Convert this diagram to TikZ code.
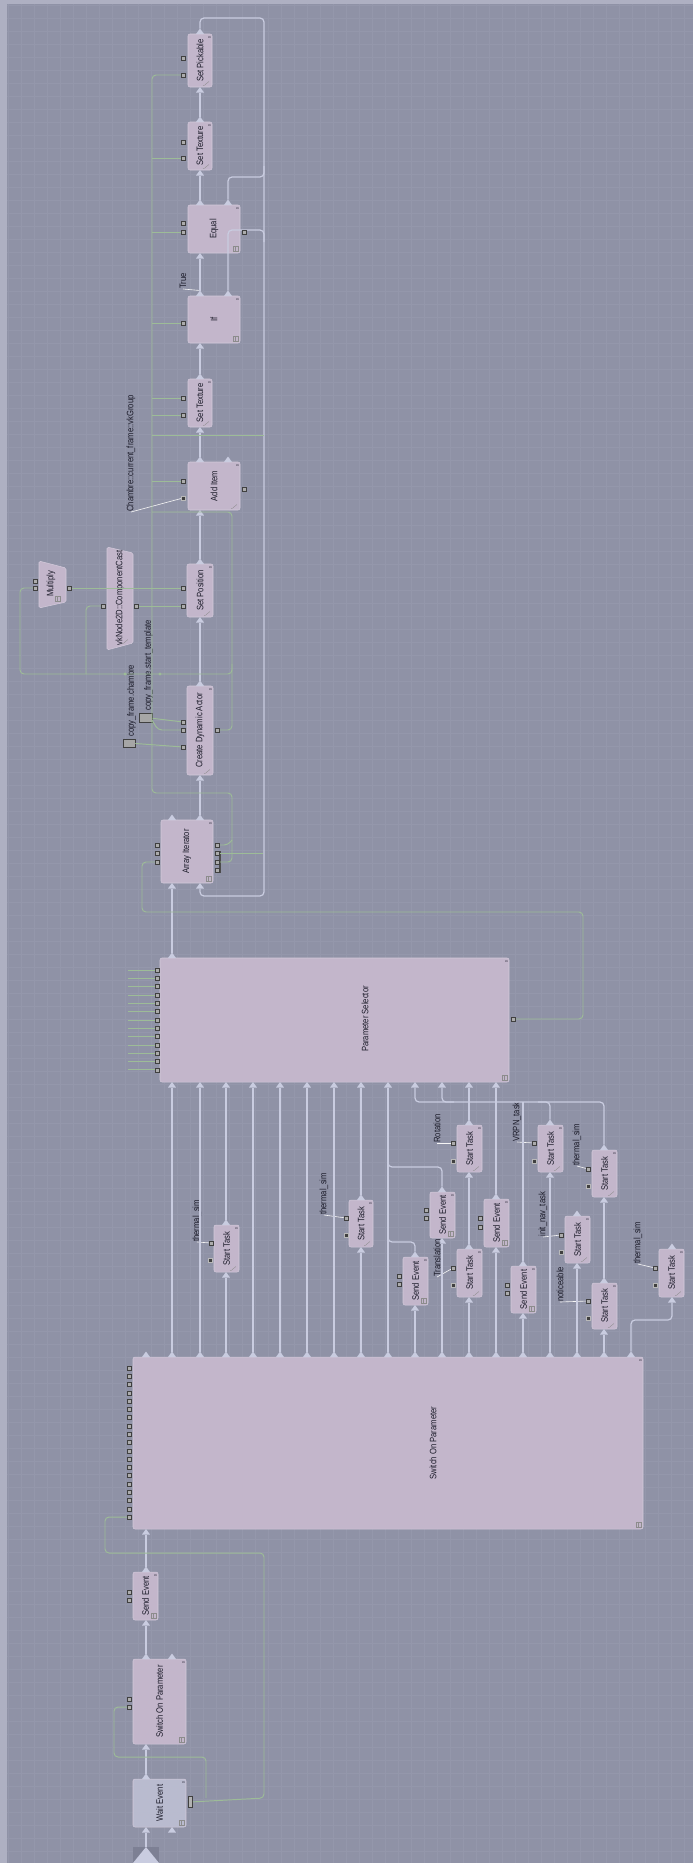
\documentclass[tikz,border=0pt]{standalone}
\usepackage{fontspec}
\setmainfont[FakeStretch=0.82]{Liberation Sans}
\definecolor{bgc}{HTML}{8F92A6}
\definecolor{gridc}{HTML}{9497AB}
\definecolor{edgec}{HTML}{AEB0C2}
\definecolor{nodef}{HTML}{C3B6CB}
\definecolor{noded}{HTML}{D3CADB}
\definecolor{wef}{HTML}{B9BBCF}
\definecolor{flowc}{HTML}{C9CCE0}
\definecolor{greenc}{HTML}{9DBC97}
\definecolor{txt}{HTML}{1A1A28}
\definecolor{startc}{HTML}{7D8094}
\tikzset{
 nbox/.style={draw=noded, fill=nodef, rounded corners=0.04cm, line width=0.3pt, inner sep=0pt},
 lt/.style={font=\fontsize{5.3}{5.3}\selectfont, text=txt, inner sep=0pt},
 zero/.style={font=\fontsize{2.2}{2.2}\selectfont, text=txt, inner sep=0pt, rotate=90},
 flow/.style={draw=flowc, line width=0.7pt, rounded corners=0.08cm},
 gl/.style={draw=greenc, line width=0.55pt, rounded corners=0.08cm},
 wl/.style={draw=white!92!gray, line width=0.35pt},
 tric/.style={fill=flowc},
 gridl/.style={draw=gridc, line width=0.15pt},
 icn/.style={draw=black!45, line width=0.2pt},
 portn/.style={draw=black!75, fill=gray!65, line width=0.25pt, minimum size=0.08cm, inner sep=0pt},
 dportn/.style={draw=gray!55, fill=black!75, line width=0.25pt, minimum size=0.08cm, inner sep=0pt},
 sqn/.style={draw=black!75, fill=gray!70, line width=0.3pt, inner sep=0pt},
}
\newcommand\bx[6]{%
 \node[nbox, minimum width={(#4-#2)*0.02cm}, minimum height={(#5-#3)*0.02cm}] (#1) at ({(#2+#4)/2},{(#3+#5)/2}) {};
 \node[lt, rotate=90] at (#1.center) {#6};
 \node[zero] at (#4-2.5,#3+3.5) {0};
}
\newcommand\opin[3]{\fill[tric] (#2-4,#3) -- (#2+4,#3) -- (#2,#3-5.5) -- cycle; \coordinate (#1) at (#2,#3-5.5);}
\newcommand\ipin[3]{\fill[tric] (#2-4,#3+5.5) -- (#2+4,#3+5.5) -- (#2,#3) -- cycle; \coordinate (#1) at (#2,#3+5.5);}
\newcommand\prt[3]{\node[portn] (#1) at (#2,#3) {};}
\newcommand\dprt[3]{\node[dportn] (#1) at (#2,#3) {};}
\newcommand\scrib[2]{\draw[icn] (#1-9,#2-1.5) .. controls (#1-6,#2-1) and (#1-6,#2-5) .. (#1-3,#2-5.5);}
\newcommand\gico[2]{\draw[icn] (#1-7,#2-7) rectangle (#1-2,#2-2); \draw[icn] (#1-4.5,#2-7) -- (#1-4.5,#2-2);}
\begin{document}
\begin{tikzpicture}[x=0.02cm,y=-0.02cm]
\useasboundingbox (0,0) rectangle (693,1863);
\fill[bgc] (0,0) rectangle (693,1863);
\foreach \gx in {8,21,...,693} \draw[gridl] (\gx,0) -- (\gx,1863);
\foreach \gy in {5,18,...,1863} \draw[gridl] (0,\gy) -- (693,\gy);
\fill[edgec] (0,0) rectangle (693,4);
\fill[edgec] (0,0) rectangle (7,1863);

% ===== main upper column =====
\bx{SP}{188}{34}{212}{87}{Set Pickable}
\opin{SPo}{200}{34}\ipin{SPi}{200}{87}
\prt{SPp1}{183}{58}\prt{SPp2}{183}{75}\scrib{212}{87}

\bx{STa}{188}{122}{212}{170}{Set Texture}
\opin{STao}{200}{122}\ipin{STai}{200}{170}
\prt{STap1}{183}{142}\prt{STap2}{183}{158}\scrib{212}{170}

\bx{EQ}{188}{205}{240}{253}{Equal}
\opin{EQo}{200}{205}\opin{EQo2}{228}{205}\ipin{EQi}{200}{253}
\prt{EQp1}{183}{223}\prt{EQp2}{183}{232}\prt{EQr}{244}{232}\gico{240}{253}

\bx{IF}{188}{296}{240}{343}{If}
\opin{IFo}{200}{296}\opin{IFo2}{228}{296}\ipin{IFi}{200}{343}
\prt{IFp}{183}{323}\gico{240}{343}
\node[lt,rotate=90,anchor=west] (TRUE) at (183,289) {True};

\bx{STb}{188}{379}{212}{427}{Set Texture}
\opin{STbo}{200}{379}\ipin{STbi}{200}{427}
\prt{STbp1}{183}{398}\prt{STbp2}{183}{415}\scrib{212}{427}

\bx{AI}{188}{462}{240}{510}{Add Item}
\opin{AIo}{200}{462}\opin{AIo2}{228}{462}\ipin{AIi}{200}{510}
\prt{AIp1}{183}{481}\dprt{AIp2}{183}{498}\prt{AIr}{244}{489}\scrib{240}{510}
\node[lt,rotate=90,anchor=west] (CHL) at (131,512) {Chambre::current\_frame::vkGroup};

\bx{SPOS}{187}{564}{213}{617}{Set Position}
\opin{SPOSo}{200}{564}\ipin{SPOSi}{200}{617}
\prt{SPOSp1}{183}{588}\prt{SPOSp2}{183}{606}\scrib{213}{617}

% Multiply trapezoid
\filldraw[fill=nodef, draw=noded, line width=0.3pt, rounded corners=0.03cm] (39,561) -- (66,568) -- (66,602) -- (39,608) -- cycle;
\node[lt,rotate=90] (MUL) at (51,584) {Multiply};
\prt{MULi1}{35}{581}\prt{MULi2}{35}{588}\prt{MULo}{69}{588}\gico{62}{603}
% ComponentCast trapezoid
\filldraw[fill=nodef, draw=noded, line width=0.3pt, rounded corners=0.03cm] (107,547) -- (133,553) -- (133,643) -- (107,650) -- cycle;
\node[lt,rotate=90] (CC) at (120,598) {vkNode2D::ComponentCast};
\prt{CCi}{103}{606}\prt{CCo}{136}{606}\scrib{131}{645}

\bx{CDA}{187}{686}{213}{775}{Create Dynamic Actor}
\opin{CDAo}{200}{686}\ipin{CDAi}{200}{775}
\prt{CDAp1}{183}{722}\prt{CDAp2}{183}{730}\prt{CDAp3}{183}{747}\prt{CDAr}{217}{730}\scrib{213}{775}

\node[sqn, minimum width=0.24cm, minimum height=0.16cm] (CFC) at (129,743) {};
\node[lt,rotate=90,anchor=west] (CFCL) at (131.5,737) {copy\_frame.chambre};
\node[sqn, minimum width=0.26cm, minimum height=0.18cm] (CFS) at (146,717.5) {};
\node[lt,rotate=90,anchor=west] (CFSL) at (148.5,711) {copy\_frame.start\_template};

\bx{ARR}{161}{820}{213}{883}{Array Iterator}
\opin{ARRo}{172}{820}\opin{ARRo2}{200}{820}\ipin{ARRi}{172}{883}\ipin{ARRi2}{200}{883}
\prt{ARRl1}{157}{845}\prt{ARRl2}{157}{853}\prt{ARRl3}{157}{862}
\fill[black!70] (218.5,851) rectangle (220.5,873);
\prt{ARRr1}{217}{845}\prt{ARRr2}{217}{853}\prt{ARRr3}{217}{862}\prt{ARRr4}{217}{870}\gico{213}{883}

% ===== Parameter Selector =====
\bx{PS}{160}{958}{509}{1082}{}
\node[lt,rotate=90] (PSL) at (365,1019) {Parameter Selector};
\gico{509}{1082}
\opin{PSo}{172}{958}
\foreach \x [count=\i] in {172,200,226,253,280,307,334,361,388,415,442,469,496} {\ipin{PSi\i}{\x}{1082}}
\foreach \i in {0,...,12} {\pgfmathsetmacro\yy{970+8.33*\i}
  \draw[gl] (128,\yy) -- (155,\yy); \node[portn] (PSl\i) at (157,\yy) {};}
\prt{PSr}{513}{1019}

% ===== Switch On Parameter (big) =====
\bx{SW}{133}{1357}{643}{1529}{}
\node[lt,rotate=90] (SWL) at (433,1443) {Switch On Parameter};
\gico{643}{1529}
\foreach \x [count=\i] in {146,172,200,226,253,280,307,334,361,388,415,442,469,496,523,550,577,604,631} {\opin{SWo\i}{\x}{1357}}
\ipin{SWi}{146}{1529}
\foreach \i in {0,...,18} {\pgfmathsetmacro\yy{1368+8.28*\i} \node[portn] (SWl\i) at (129,\yy) {};}

% ===== lower column =====
\bx{SE0}{133}{1572}{158}{1620}{Send Event}
\opin{SE0o}{146}{1572}\ipin{SE0i}{146}{1620}
\prt{SE0p1}{129}{1592}\prt{SE0p2}{129}{1600}\gico{158}{1620}

\bx{SWS}{133}{1659}{186}{1744}{Switch On Parameter}
\opin{SWSo}{146}{1659}\opin{SWSo2}{172}{1659}\ipin{SWSi}{146}{1744}
\prt{SWSp1}{129}{1699}\prt{SWSp2}{129}{1707}\gico{186}{1744}

\node[draw=noded, fill=wef, rounded corners=0.04cm, line width=0.3pt, inner sep=0pt, minimum width=1.06cm, minimum height=0.96cm] (WE) at (159.5,1803) {};
\node[lt,rotate=90] at (WE.center) {Wait Event};
\node[zero] at (183.5,1782.5) {0};
\gico{186}{1827}
\opin{WEo}{146}{1779}\ipin{WEi}{146}{1827}\ipin{WEi2}{172}{1827}
\node[draw=black!75, fill=gray!60, line width=0.3pt, inner sep=0pt, minimum width=0.09cm, minimum height=0.22cm] (WEr) at (190.5,1802) {};

\fill[startc] (133,1847) rectangle (159,1863);
\fill[flowc] (133,1863) -- (159,1863) -- (146,1847) -- cycle;
\coordinate (START) at (146,1847);

% ===== right cluster =====
\bx{STA}{214}{1225}{239}{1272}{Start Task}\opin{STAo}{226}{1225}\ipin{STAi}{226}{1272}
\prt{STAp}{211}{1243}\dprt{STAd}{210}{1260}\scrib{239}{1272}
\bx{STB}{349}{1200}{373}{1247}{Start Task}\opin{STBo}{361}{1200}\ipin{STBi}{361}{1247}
\prt{STBp}{346}{1218}\dprt{STBd}{346}{1235}\scrib{373}{1247}
\bx{SEA}{403}{1257}{428}{1305}{Send Event}\opin{SEAo}{415}{1257}\ipin{SEAi}{415}{1305}
\prt{SEAp1}{399}{1276}\prt{SEAp2}{399}{1284}\gico{428}{1305}
\bx{SEB}{430}{1192}{455}{1238}{Send Event}\opin{SEBo}{442}{1192}\ipin{SEBi}{442}{1238}
\prt{SEBp1}{426}{1210}\prt{SEBp2}{426}{1218}\gico{455}{1238}
\bx{ST3}{457}{1249}{482}{1297}{Start Task}\opin{ST3o}{469}{1249}\ipin{ST3i}{469}{1297}
\prt{ST3p}{453}{1268}\dprt{ST3d}{453}{1285}\scrib{482}{1297}
\bx{ST4}{457}{1125}{482}{1172}{Start Task}\opin{ST4o}{469}{1125}\ipin{ST4i}{469}{1172}
\prt{ST4p}{453}{1143}\dprt{ST4d}{453}{1161}\scrib{482}{1172}
\bx{SEC}{484}{1199}{509}{1247}{Send Event}\opin{SECo}{496}{1199}\ipin{SECi}{496}{1247}
\prt{SECp1}{480}{1218}\prt{SECp2}{480}{1227}\gico{509}{1247}
\bx{SED}{511}{1266}{536}{1313}{Send Event}\opin{SEDo}{523}{1266}\ipin{SEDi}{523}{1313}
\prt{SEDp1}{507}{1285}\prt{SEDp2}{507}{1293}\gico{536}{1313}
\bx{ST5}{538}{1125}{563}{1172}{Start Task}\opin{ST5o}{550}{1125}\ipin{ST5i}{550}{1172}
\prt{ST5p}{534}{1143}\dprt{ST5d}{534}{1161}\scrib{563}{1172}
\bx{ST6}{565}{1216}{590}{1263}{Start Task}\opin{ST6o}{577}{1216}\ipin{ST6i}{577}{1263}
\prt{ST6p}{561}{1235}\dprt{ST6d}{561}{1252}\scrib{590}{1263}
\bx{ST7}{592}{1150}{617}{1197}{Start Task}\opin{ST7o}{604}{1150}\ipin{ST7i}{604}{1197}
\prt{ST7p}{588}{1169}\dprt{ST7d}{588}{1186}\scrib{617}{1197}
\bx{ST8}{592}{1283}{617}{1329}{Start Task}\opin{ST8o}{604}{1283}\ipin{ST8i}{604}{1329}
\prt{ST8p}{588}{1301}\dprt{ST8d}{588}{1318}\scrib{617}{1329}
\bx{ST9}{659}{1249}{684}{1297}{Start Task}\opin{ST9o}{672}{1249}\ipin{ST9i}{672}{1297}
\prt{ST9p}{655}{1268}\dprt{ST9d}{655}{1285}\scrib{684}{1297}

% labels of the right cluster
\node[lt,rotate=90,anchor=west] (L1) at (197,1242) {thermal\_sim};
\node[lt,rotate=90,anchor=west] (L2) at (324,1215) {thermal\_sim};
\node[lt,rotate=90,anchor=west] (L3) at (437,1143) {Rotation};
\node[lt,rotate=90,anchor=west] (L4) at (437,1277) {Translation};
\node[lt,rotate=90,anchor=west] (L5) at (517,1142) {VRPN\_task};
\node[lt,rotate=90,anchor=west] (L6) at (543,1237) {init\_nav\_task};
\node[lt,rotate=90,anchor=west] (L7) at (577,1166) {thermal\_sim};
\node[lt,rotate=90,anchor=west] (L8) at (560,1302) {noticeable};
\node[lt,rotate=90,anchor=west] (L9) at (638,1264) {thermal\_sim};
\draw[wl] (L1.west) -- (STAp);
\draw[wl] (L2.west) -- (STBp);
\draw[wl] (L3.west) -- (ST4p);
\draw[wl] (L4.west) -- (ST3p);
\draw[wl] (L5.west) -- (ST5p);
\draw[wl] (L6.west) -- (ST6p);
\draw[wl] (L7.west) -- (ST7p);
\draw[wl] (L8.west) -- (ST8p);
\draw[wl] (L9.west) -- (ST9p);
\draw[wl] (TRUE.west) -- (IFo);
\draw[wl] (CHL.west) -- (AIp2);

% ===== flow connectors (grey) =====
\draw[flow] (STao) -- (SPi);
\draw[flow] (EQo) -- (STai);
\draw[flow] (IFo) -- (EQi);
\draw[flow] (STbo) -- (IFi);
\draw[flow] (AIo) -- (STbi);
\draw[flow] (SPOSo) -- (AIi);
\draw[flow] (CDAo) -- (SPOSi);
\draw[flow] (ARRo2) -- (CDAi);
\draw[flow] (SPo) -- (200,18) -- (264,18) -- (264,896) -- (200,896) -- (ARRi2);
\draw[flow] (264,166) -- (264,177) -- (228,177) -- (EQo2);
\draw[flow] (IFo2) -- (228,230) -- (264,230) -- (264,242);
\draw[flow] (PSo) -- (ARRi);

\draw[flow] (SWo2) -- (PSi1);
\draw[flow] (SWo3) -- (PSi2);
\draw[flow] (SWo4) -- (STAi); \draw[flow] (STAo) -- (PSi3);
\draw[flow] (SWo5) -- (PSi4);
\draw[flow] (SWo6) -- (PSi5);
\draw[flow] (SWo7) -- (PSi6);
\draw[flow] (SWo8) -- (PSi7);
\draw[flow] (SWo9) -- (STBi); \draw[flow] (STBo) -- (PSi8);
\draw[flow] (SWo10) -- (PSi9);
\draw[flow] (SWo11) -- (SEAi);
\draw[flow] (SEAo) -- (415,1242) -- (388,1242) -- (388,1230);
\draw[flow] (SWo12) -- (SEBi);
\draw[flow] (SEBo) -- (442,1167) -- (388,1167) -- (388,1155);
\draw[flow] (SWo13) -- (ST3i); \draw[flow] (ST3o) -- (ST4i);
\draw[flow] (SWo14) -- (SECi); \draw[flow] (SECo) -- (PSi13);
\draw[flow] (SWo15) -- (SEDi); \draw[flow] (SEDo) -- (523,1102);
\draw[flow] (SWo16) -- (ST5i); \draw[flow] (ST5o) -- (550,1102) -- (538,1102);
\draw[flow] (SWo17) -- (ST6i);
\draw[flow] (SWo18) -- (ST8i); \draw[flow] (ST8o) -- (ST7i);
\draw[flow] (PSi10) -- (415,1102) -- (604,1102) -- (ST7o);
\draw[flow] (PSi11) -- (442,1102) -- (454,1102);
\draw[flow] (PSi12) -- (ST4o);
\draw[flow] (SWo19) -- (631,1320) -- (672,1320) -- (ST9i);

\draw[flow] (SE0o) -- (SWi);
\draw[flow] (SWSo) -- (SE0i);
\draw[flow] (WEo) -- (SWSi);
\draw[flow] (START) -- (WEi);

% ===== data connectors (green) =====
\draw[gl] (SPp2) -- (152,75) -- (152,793) -- (232,793) -- (232,862) -- (ARRr3);
\draw[gl] (STap2) -- (152,158);
\draw[gl] (EQp2) -- (152,232);
\draw[gl] (IFp) -- (152,323);
\draw[gl] (STbp1) -- (152,398);
\draw[gl] (STbp2) -- (152,415);
\draw[gl] (152,435) -- (264,435);
\draw[gl] (AIp1) -- (152,481);
\draw[gl] (CDAr) -- (232,730) -- (232,512) -- (152,512);
\draw[gl] (232,664) -- (232,674) -- (20,674) -- (20,588) -- (MULi2);
\draw[gl] (86,674) -- (86,606) -- (CCi);
\draw[gl] (MULo) -- (SPOSp1);
\draw[gl] (CCo) -- (SPOSp2);
\draw[gl] (CDAp2) -- (158,730) -- (152,720);
\draw[gl] (CFS) -- (CDAp1);
\draw[gl] (CFC) -- (CDAp3);
\draw[gl] (ARRr1) -- (228,845) -- (232,840);
\draw[gl] (ARRr2) -- (263,853);
\draw[gl] (PSr) -- (583,1019) -- (583,912) -- (142,912) -- (142,862) -- (ARRl3);
\draw[gl] (SWl18) -- (105,1517) -- (105,1553) -- (264,1553) -- (264,1798) -- (WEr);
\draw[gl] (SWSp2) -- (114,1707) -- (114,1757) -- (206,1757) -- (206,1798);
\foreach \p in {125,160} \fill[greenc] (\p,674) circle (1.6);

% redraw ports on top of lines
\foreach \n/\x/\y in {SPp2/183/75,STap2/183/158,EQp2/183/232,IFp/183/323,STbp1/183/398,STbp2/183/415,AIp1/183/481,SPOSp1/183/588,SPOSp2/183/606,CDAp1/183/722,CDAp2/183/730,CDAp3/183/747,MULi2/35/588,MULo/69/588,CCi/103/606,CCo/136/606,CDAr/217/730,ARRr1/217/845,ARRr2/217/853,ARRr3/217/862,ARRl3/157/862,PSr/513/1019,SWSp2/129/1707,EQr/244/232}
  {\node[portn] at (\x,\y) {};}
\node[portn] at (129,1517) {};
\end{tikzpicture}
\end{document}
